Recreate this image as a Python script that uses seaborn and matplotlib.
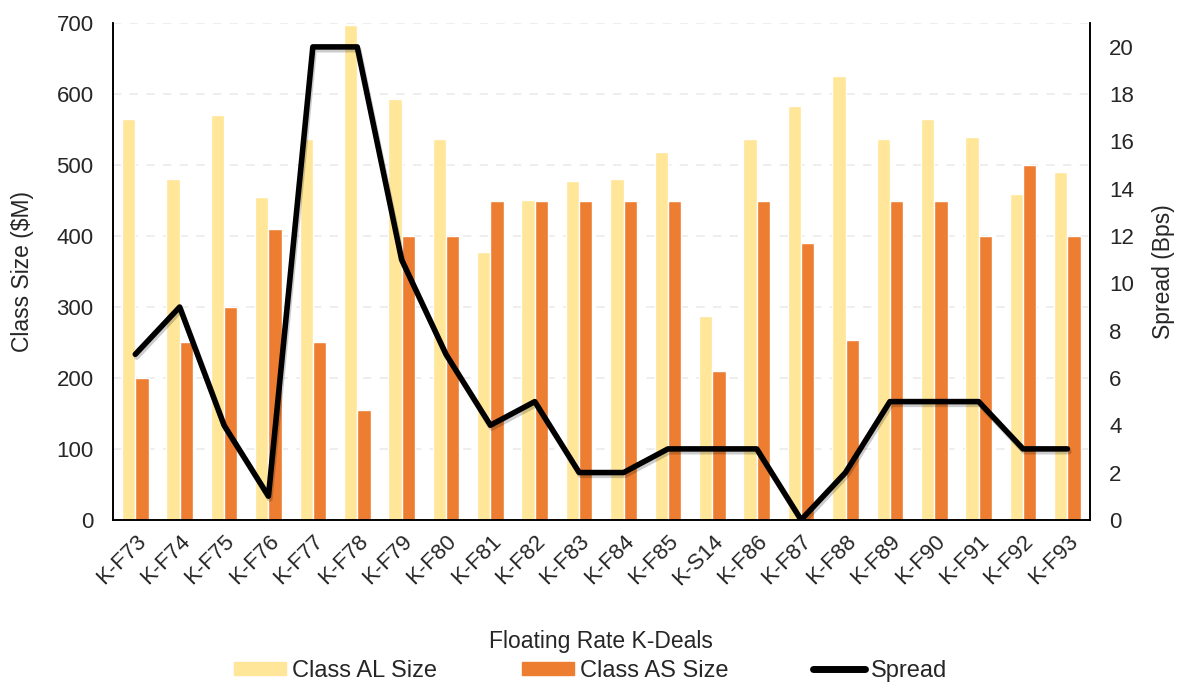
import pandas as pd
import numpy as np
import matplotlib
matplotlib.use("Agg")
import matplotlib.pyplot as plt
import matplotlib.patheffects as pe
from matplotlib.patches import Patch
from matplotlib.lines import Line2D
import seaborn as sns

sns.set_style("white")
plt.rcParams['font.family'] = ['Liberation Sans', 'DejaVu Sans']

# dane: wielkosc klas (mln $) i spread (bps) dla transakcji K
deals = ['K-F73', 'K-F74', 'K-F75', 'K-F76', 'K-F77', 'K-F78', 'K-F79', 'K-F80',
         'K-F81', 'K-F82', 'K-F83', 'K-F84', 'K-F85', 'K-S14', 'K-F86', 'K-F87',
         'K-F88', 'K-F89', 'K-F90', 'K-F91', 'K-F92', 'K-F93']
class_al = [565, 480, 570, 455, 537, 698, 593, 537, 378, 451, 478, 480, 519, 287,
            537, 583, 625, 537, 565, 540, 460, 491]
class_as = [200, 250, 300, 410, 250, 155, 400, 400, 450, 450, 450, 450, 450, 210,
            450, 390, 253, 450, 450, 400, 500, 400]
spread = [7, 9, 4, 1, 20, 20, 11, 7, 4, 5, 2, 2, 3, 3, 3, 0, 2, 5, 5, 5, 3, 3]

df = pd.DataFrame({'deal': deals * 2,
                   'size': class_al + class_as,
                   'cls': ['Class AL Size'] * len(deals) + ['Class AS Size'] * len(deals)})

colors = {'Class AL Size': '#FFE699', 'Class AS Size': '#ED7D31'}
fs = 16

fig, ax = plt.subplots(figsize=(11.78, 6.84), dpi=100)
fig.subplots_adjust(left=0.096, right=0.925, top=0.966, bottom=0.24)

sns.barplot(data=df, x='deal', y='size', hue='cls', palette=colors, width=0.6,
            saturation=1, ax=ax, legend=False, zorder=2)
ax.set_ylim(0, 700)
ax.set_yticks(range(0, 701, 100))
ax.yaxis.grid(True, color='#ebebeb', linestyle=(0, (5, 5)), linewidth=1.2, zorder=0)
ax.set_axisbelow(True)
ax.set_ylabel('Class Size (\\$M)', fontsize=16.5, labelpad=16)
ax.set_xlabel('Floating Rate K-Deals', fontsize=16.5, labelpad=29)
ax.tick_params(axis='y', labelsize=fs, length=0, pad=14)
ax.tick_params(axis='x', labelsize=fs, length=0, pad=8)
plt.setp(ax.get_xticklabels(), rotation=45, ha='right', rotation_mode='anchor')

ax2 = ax.twinx()
sns.lineplot(x=deals, y=spread, sort=False, color='black', linewidth=4, ax=ax2,
             path_effects=[pe.SimpleLineShadow(offset=(1, -2), alpha=0.2), pe.Normal()])
ax2.set_ylim(0, 21)
ax2.set_yticks(range(0, 21, 2))
ax2.set_ylabel('Spread (Bps)', fontsize=16.5, labelpad=13)
ax2.tick_params(axis='y', labelsize=fs, length=0, pad=14)
ax.set_xlim(-0.5, len(deals) - 0.5)

for a in (ax, ax2):
    a.spines['top'].set_visible(False)
    for s in ('left', 'right', 'bottom'):
        a.spines[s].set_color('black')
        a.spines[s].set_linewidth(1.2)

handles = [Patch(color=colors['Class AL Size']), Patch(color=colors['Class AS Size']),
           Line2D([], [], color='black', linewidth=5)]
fig.legend(handles, ['Class AL Size', 'Class AS Size', 'Spread'], loc='lower left',
           bbox_to_anchor=(234 / 1178, 0.003), ncol=3, frameon=False, fontsize=17,
           borderpad=0, borderaxespad=0, handlelength=2.2, handleheight=0.5,
           handletextpad=0.25, columnspacing=3.6)

fig.savefig('out.png', dpi=100)
